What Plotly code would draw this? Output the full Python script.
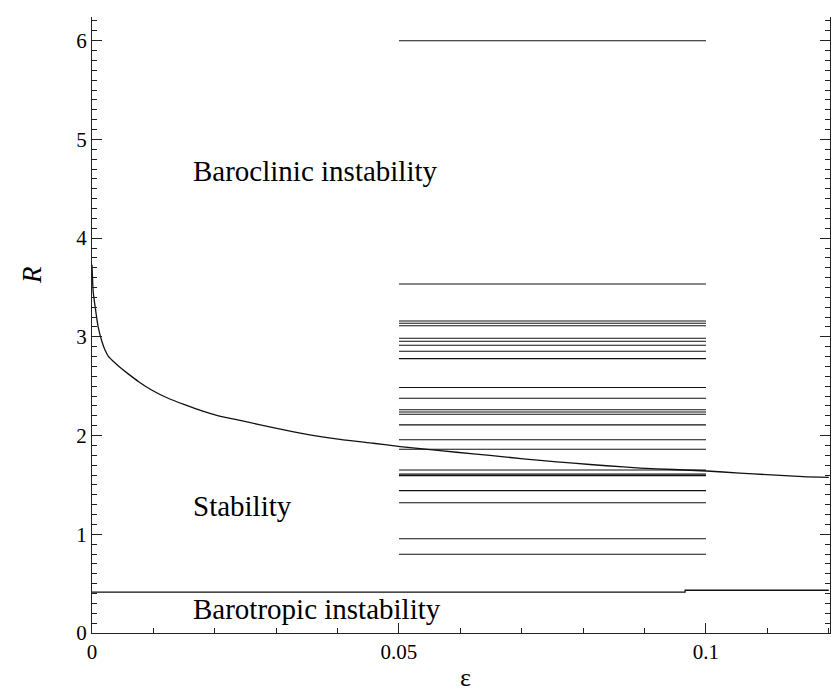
import plotly.graph_objects as go

# ---- data ----
curve_eps = [0.0, 0.0002, 0.0005, 0.001, 0.0016, 0.0021, 0.0027, 0.0035, 0.0043, 0.0059,
             0.0076, 0.0097, 0.0124, 0.0152, 0.0179, 0.0206, 0.0245, 0.0295, 0.035, 0.0404,
             0.0458, 0.0502, 0.0567, 0.0621, 0.0675, 0.073, 0.0784, 0.0838, 0.0893, 0.0947,
             0.1001, 0.1055, 0.1099, 0.1158, 0.12]
curve_R = [3.73, 3.45, 3.31, 3.10, 2.955, 2.87, 2.80, 2.75, 2.705, 2.625,
           2.546, 2.462, 2.378, 2.31, 2.249, 2.20, 2.148, 2.08, 2.013, 1.962,
           1.922, 1.888, 1.847, 1.815, 1.782, 1.748, 1.72, 1.694, 1.671, 1.656,
           1.641, 1.62, 1.604, 1.585, 1.577]

barotropic_eps = [0.0, 0.0966, 0.12]
barotropic_R = [0.415, 0.433, 0.433]

level_eps_range = [0.05, 0.1]
level_R = [6.0, 3.536, 3.161, 3.138, 3.113, 2.986, 2.955, 2.915, 2.854, 2.779,
           2.487, 2.378, 2.262, 2.238, 2.216, 2.108, 1.957, 1.861, 1.651, 1.609,
           1.594, 1.442, 1.320, 0.955, 0.797]

region_labels = ["Baroclinic instability", "Stability", "Barotropic instability"]
region_label_R = [4.676, 1.282, 0.243]
region_label_eps = 0.0162

x_ticks = [0, 0.05, 0.1]
x_ticklabels = ["0", "0.05", "0.1"]
y_ticks = [0, 1, 2, 3, 4, 5, 6]

SERIF = "Liberation Serif"

# ---- build ----
lx, ly = [], []
for r in level_R:
    lx += [level_eps_range[0], level_eps_range[1], None]
    ly += [r, r, None]

fig = go.Figure()
fig.add_trace(go.Scatter(x=lx, y=ly, mode="lines",
                         line=dict(color="#111111", width=1.1), hoverinfo="skip"))
fig.add_trace(go.Scatter(x=curve_eps, y=curve_R, mode="lines", line_shape="spline",
                         line=dict(color="#111111", width=1.3, smoothing=0.6), hoverinfo="skip"))
fig.add_trace(go.Scatter(x=barotropic_eps, y=barotropic_R, mode="lines", line_shape="hv",
                         line=dict(color="#111111", width=1.3), hoverinfo="skip"))

for txt, yv in zip(region_labels, region_label_R):
    fig.add_annotation(x=region_label_eps, y=yv, xref="x", yref="y", text=txt,
                       showarrow=False, xanchor="left", yanchor="middle",
                       font=dict(family=SERIF, size=29, color="black"))

fig.add_annotation(x=-0.0813, xref="paper", y=3.627, yref="y", text="<i>R</i>",
                   showarrow=False, textangle=-90, xanchor="center", yanchor="middle",
                   font=dict(family=SERIF, size=27, color="black"))
fig.add_annotation(x=0.0609, xref="x", y=-0.073, yref="paper", text="ε",
                   showarrow=False, xanchor="center", yanchor="middle",
                   font=dict(family=SERIF, size=26, color="black"))

fig.update_layout(
    width=837, height=692,
    margin=dict(l=92, r=7, t=17, b=59),
    paper_bgcolor="white", plot_bgcolor="white",
    showlegend=False,
    font=dict(family=SERIF, size=21, color="black"),
)
fig.update_xaxes(range=[0, 0.1202], tickmode="array", tickvals=x_ticks, ticktext=x_ticklabels,
                 ticks="inside", ticklen=10, tickwidth=1.3, tickcolor="#222222",
                 showline=True, linecolor="#222222", linewidth=1.3, mirror=False,
                 showgrid=False, zeroline=False,
                 tickfont=dict(family=SERIF, size=21, color="black"),
                 minor=dict(dtick=0.01, ticks="inside", ticklen=5, tickwidth=1.3,
                            tickcolor="#222222", showgrid=False, tick0=0))
fig.update_yaxes(range=[0, 6.24], tickmode="array", tickvals=y_ticks,
                 ticks="inside", ticklen=10, tickwidth=1.3, tickcolor="#222222",
                 showline=True, linecolor="#222222", linewidth=1.3, mirror="ticks",
                 showgrid=False, zeroline=False,
                 tickfont=dict(family=SERIF, size=21, color="black"),
                 minor=dict(dtick=0.1, ticks="inside", ticklen=5, tickwidth=1.3,
                            tickcolor="#222222", showgrid=False, tick0=0))

fig.write_html("out.html")
